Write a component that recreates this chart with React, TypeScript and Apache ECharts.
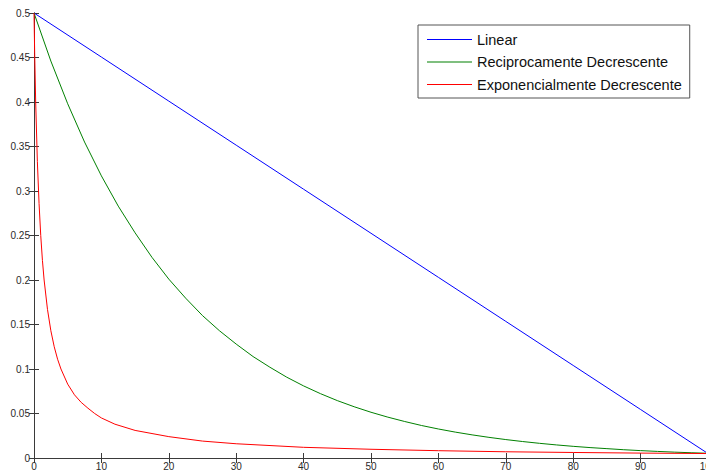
import React, { useEffect, useRef } from "react";
import * as echarts from "echarts";

const seriesNames = ["Linear", "Reciprocamente Decrescente", "Exponencialmente Decrescente"];

const linearX = [0, 10, 20, 30, 40, 50, 60, 70, 80, 90, 100];
const linearY = [0.5, 0.4505, 0.401, 0.3515, 0.302, 0.2525, 0.203, 0.1535, 0.104, 0.0545, 0.005];

const recipX = [0, 2.5, 5, 7.5, 10, 12.5, 15, 17.5, 20, 22.5, 25, 27.5, 30, 32.5, 35, 37.5, 40, 42.5, 45, 47.5, 50, 52.5, 55, 57.5, 60, 62.5, 65, 67.5, 70, 72.5, 75, 77.5, 80, 82.5, 85, 87.5, 90, 92.5, 95, 97.5, 100];
const recipY = [0.5, 0.446, 0.398, 0.355, 0.317, 0.283, 0.253, 0.2255, 0.201, 0.1796, 0.16, 0.1431, 0.128, 0.114, 0.102, 0.0908, 0.081, 0.0723, 0.0645, 0.0576, 0.0514, 0.0459, 0.041, 0.0365, 0.0326, 0.0291, 0.026, 0.0232, 0.0207, 0.0185, 0.0165, 0.0147, 0.0131, 0.0117, 0.0105, 0.0093, 0.0083, 0.0074, 0.0066, 0.0059, 0.0053];

const expoX = [0, 0.1, 0.25, 0.5, 0.75, 1, 1.25, 1.5, 2, 2.5, 3, 3.5, 4, 5, 6, 7, 8, 9, 10, 12, 15, 20, 25, 30, 40, 50, 60, 70, 80, 90, 100];
const expoY = [0.5, 0.4545, 0.4, 0.333, 0.286, 0.25, 0.222, 0.2, 0.167, 0.143, 0.125, 0.111, 0.1, 0.083, 0.071, 0.0625, 0.056, 0.05, 0.045, 0.038, 0.031, 0.024, 0.019, 0.016, 0.012, 0.0098, 0.0082, 0.007, 0.0062, 0.0055, 0.005];

const colors = ["#0000ff", "#008000", "#ff0000"];

function pairs(xs: number[], ys: number[]) {
  return xs.map((x, i) => [x, ys[i]]);
}

export default function App() {
  const ref = useRef<HTMLDivElement>(null);
  useEffect(() => {
    if (!ref.current) return;
    const chart = echarts.init(ref.current, undefined, { renderer: "svg" });
    const axisLine = { show: true, lineStyle: { color: "#3a3a3a", width: 1 } };
    const tick = { show: true, inside: true, length: 5, lineStyle: { color: "#3a3a3a" } };
    const label = { fontFamily: "Liberation Sans, Arial, sans-serif", fontSize: 10, color: "#2a2a2a" };
    chart.setOption({
      animation: false,
      backgroundColor: "#ffffff",
      grid: { left: 34, right: -2, top: 13, bottom: 12, containLabel: false, outerBoundsMode: "none" },
      xAxis: [
        {
          type: "value", min: 0, max: 100, interval: 10, position: "bottom",
          axisLine, axisTick: tick, splitLine: { show: false },
          axisLabel: { ...label, margin: 3, formatter: (v: number) => String(v) },
        },
        {
          type: "value", min: 0, max: 100, interval: 10, position: "top",
          axisLine, axisTick: tick, splitLine: { show: false }, axisLabel: { show: false },
        },
      ],
      yAxis: [
        {
          type: "value", min: 0, max: 0.5, interval: 0.05, position: "left",
          axisLine, axisTick: tick, splitLine: { show: false },
          axisLabel: { ...label, margin: 4, formatter: (v: number) => String(Math.round(v * 100) / 100) },
        },
        {
          type: "value", min: 0, max: 0.5, interval: 0.05, position: "right",
          axisLine, axisTick: tick, splitLine: { show: false }, axisLabel: { show: false },
        },
      ],
      legend: {
        orient: "vertical",
        left: 418,
        top: 25,
        padding: [7, 8, 6, 9],
        itemGap: 7.5,
        itemWidth: 45,
        itemHeight: 14,
        borderColor: "#555555",
        borderWidth: 1,
        borderRadius: 0,
        backgroundColor: "#ffffff",
        textStyle: { fontFamily: "Liberation Sans, Arial, sans-serif", fontSize: 14.5, color: "#111111" },
        data: seriesNames.map((n, i) => ({
          name: n,
          icon: "path://M0,0 L45,0 L45,1 L0,1 Z",
          itemStyle: { color: colors[i], borderWidth: 0 },
          lineStyle: { color: colors[i], width: 0 },
        })),
      },
      series: [
        { name: seriesNames[0], type: "line", color: colors[0], data: pairs(linearX, linearY), showSymbol: false, symbol: "none", lineStyle: { color: colors[0], width: 1 }, itemStyle: { color: colors[0] } },
        { name: seriesNames[1], type: "line", color: colors[1], data: pairs(recipX, recipY), showSymbol: false, symbol: "none", lineStyle: { color: colors[1], width: 1 }, itemStyle: { color: colors[1] } },
        { name: seriesNames[2], type: "line", color: colors[2], data: pairs(expoX, expoY), showSymbol: false, symbol: "none", lineStyle: { color: colors[2], width: 1 }, itemStyle: { color: colors[2] } },
      ],
    });
    return () => chart.dispose();
  }, []);
  return <div ref={ref} style={{ width: 706, height: 470, position: "absolute", left: 0, top: 0 }} />;
}
